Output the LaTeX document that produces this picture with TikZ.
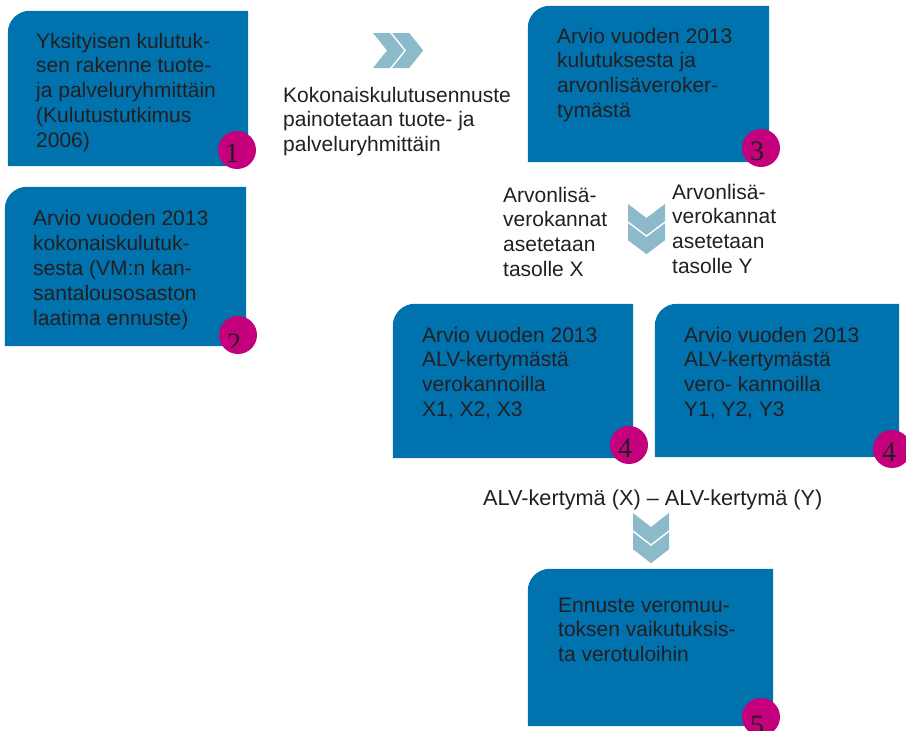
\documentclass[tikz,border=0pt]{standalone}
\usepackage{fontspec}
\setmainfont{Liberation Sans}
\newfontfamily\numfont{Liberation Serif}
\definecolor{boxblue}{HTML}{0072AE}
\definecolor{numpink}{HTML}{C4007C}
\definecolor{chevc}{HTML}{8DBACA}
\definecolor{txtc}{HTML}{231F20}
\tikzset{
  % anchored at the baseline of the LAST line
  lbl/.style={anchor=base west, align=left, inner sep=0pt, text=txtc,
    font=\fontsize{21}{24.8}\selectfont},
  boxframe/.style={inner sep=0pt, draw=none},
  numdisc/.style={circle, fill=numpink, minimum size=38pt, inner sep=0pt},
  numtxt/.style={anchor=base, inner sep=0pt, text=txtc,
    font=\numfont\fontsize{28}{28}\selectfont},
}
% name, x0, ytop, x1, ybottom
\newcommand{\bluebox}[5]{%
  \node[boxframe, minimum width={#4-#2}, minimum height={#5-#3}]
    (#1) at ({(#2+#4)/2},{(#3+#5)/2}) {};
  \fill[boxblue] (#1.south west) -- ([yshift=-22pt]#1.north west)
    .. controls ([yshift=-9.85pt]#1.north west) and ([xshift=9.85pt]#1.north west)
    .. ([xshift=22pt]#1.north west) -- (#1.north east) -- (#1.south east) -- cycle;
}
% down chevron pair: cx, ytop, half width
\newcommand{\downchev}[3]{%
  \fill[chevc] (#1-#3,#2) -- (#1,#2+14) -- (#1+#3,#2) -- (#1+#3,#2+17)
    -- (#1,#2+31) -- (#1-#3,#2+17) -- cycle;
  \fill[chevc] (#1-#3,#2+19.2) -- (#1,#2+33.2) -- (#1+#3,#2+19.2) -- (#1+#3,#2+36.2)
    -- (#1,#2+50.2) -- (#1-#3,#2+36.2) -- cycle;
}
% right chevron pair: xleft, cy, half height
\newcommand{\rightchev}[3]{%
  \fill[chevc] (#1,#2-#3) -- (#1+14,#2) -- (#1,#2+#3) -- (#1+17,#2+#3)
    -- (#1+31,#2) -- (#1+17,#2-#3) -- cycle;
  \fill[chevc] (#1+19.2,#2-#3) -- (#1+33.2,#2) -- (#1+19.2,#2+#3) -- (#1+36.2,#2+#3)
    -- (#1+50.2,#2) -- (#1+36.2,#2-#3) -- cycle;
}
\begin{document}
\begin{tikzpicture}[x=1pt, y=-1pt]
\useasboundingbox (0,0) rectangle (906,731);

% boxes
\bluebox{b1}{8}{11}{248}{166}
\bluebox{b2}{5}{187}{246}{346}
\bluebox{b3}{528}{6}{769}{162}
\bluebox{b4x}{393}{304}{633}{458}
\bluebox{b4y}{655}{304}{899}{457}
\bluebox{b5}{528}{569}{773}{726}

% box texts (y = baseline of last line)
\node[lbl] (t1) at (36,147.2) {Yksityisen kulutuk-\\sen rakenne tuote-\\ja palveluryhmittäin\\(Kulutustutkimus\\2006)};
\node[lbl] (t2) at (33,325) {Arvio vuoden 2013\\kokonaiskulutuk-\\sesta (VM:n kan-\\santalousosaston\\laatima ennuste)};
\node[lbl] (t3) at (557,117.4) {Arvio vuoden 2013\\kulutuksesta ja\\arvonlisäveroker-\\tymästä};
\node[lbl] (t4x) at (422,416.4) {Arvio vuoden 2013\\ALV-kertymästä\\verokannoilla\\X1, X2, X3};
\node[lbl] (t4y) at (684,416.4) {Arvio vuoden 2013\\ALV-kertymästä\\vero- kannoilla\\Y1, Y2, Y3};
\node[lbl] (t5) at (558,661.6) {Ennuste veromuu-\\toksen vaikutuksis-\\ta verotuloihin};

% free labels
\node[lbl] (l1) at (283,151.6) {Kokonaiskulutusennuste\\painotetaan tuote- ja\\palveluryhmittäin};
\node[lbl] (lx) at (503,276.4) {Arvonlisä-\\verokannat\\asetetaan\\tasolle X};
\node[lbl] (ly) at (672,273.4) {Arvonlisä-\\verokannat\\asetetaan\\tasolle Y};
\node[lbl, font=\fontsize{21.7}{24.8}\selectfont] (ld) at (483,505) {ALV-kertymä (X) – ALV-kertymä (Y)};

% chevrons
\rightchev{373}{50.5}{17.5}
\downchev{646.5}{204}{18.5}
\downchev{651}{513}{18}

% number discs
\node[numdisc] (n1) at (237,150) {};
\node[numtxt] (d1) at (232,162) {1};
\node[numdisc] (n2) at (238,335) {};
\begin{scope}
  \clip (200,300) rectangle (280,347);
  \node[numtxt] (d2) at (234,352) {2};
\end{scope}
\node[numdisc] (n3) at (761,148) {};
\begin{scope}
  \clip (720,100) rectangle (800,162);
  \node[numtxt] (d3) at (757,160) {3};
\end{scope}
\node[numdisc] (n4x) at (629,445) {};
\node[numtxt] (d4x) at (625,457) {4};
\node[numdisc] (n4y) at (892,449) {};
\node[numtxt] (d4y) at (889,461) {4};
\node[numdisc] (n5) at (761,717) {};
\node[numtxt] (d5) at (757,734) {5};
\end{tikzpicture}
\end{document}
